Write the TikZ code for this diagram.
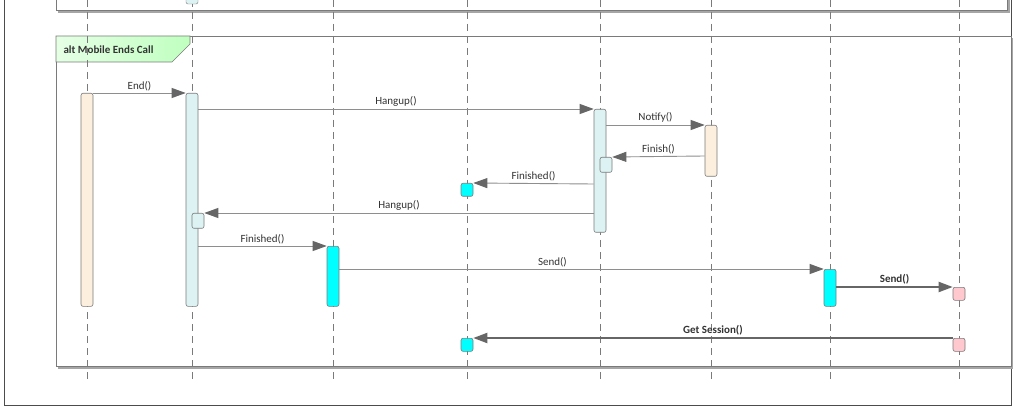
\documentclass[tikz,border=0pt]{standalone}
\usepackage{fontspec}
\setmainfont{Carlito}
\usetikzlibrary{arrows.meta}
\definecolor{beige}{HTML}{FDEFDD}
\definecolor{lcyan}{HTML}{DDF3F3}
\definecolor{cy}{HTML}{00FFFF}
\definecolor{pk}{HTML}{FFC8CF}
\definecolor{ln}{HTML}{7A7A7A}
\definecolor{ah}{HTML}{666666}
\tikzset{x=1pt,y=-1pt,
 life/.style={draw=ln,dash pattern=on 7pt off 5pt,line width=0.8pt},
 act/.style={draw=ln,rounded corners=2pt,line width=0.6pt},
 msg/.style={draw=ln!85,line width=0.9pt,-{Triangle[length=14pt,width=10pt,color=ah]}},
 bmsg/.style={draw=ah,line width=2pt,-{Triangle[length=14pt,width=10pt,color=ah]}},
 lbl/.style={font=\fontsize{11}{12}\selectfont,text=black!80,above,inner sep=2pt},
 blbl/.style={lbl,font=\bfseries\fontsize{11}{12}\selectfont},
}
\begin{document}
\begin{tikzpicture}
\useasboundingbox (0,0) rectangle (1013,409);
\fill[white] (0,0) rectangle (1013,409);
\draw[black!70,line width=0.8pt] (4,-2) -- (4,405) -- (1011,405) -- (1011,-2);
% previous fragment
\draw[black!35,line width=2pt] (58,12) -- (1009,12) -- (1009,-2);
\draw[ln,line width=0.8pt] (56,-2) -- (56,10) -- (1007,10) -- (1007,-2);
% alt frame
\draw[black!35,line width=2pt] (58,368) -- (1013,368) -- (1013,38);
\draw[ln,line width=0.8pt] (56,36) rectangle (1011,366);
\draw[ln,line width=0.6pt,left color=green!10,right color=green!25!white] (56,36) -- (190,36) -- (190,44) -- (172,62) -- (56,62) -- cycle;
\node[font=\bfseries\fontsize{11}{12}\selectfont,text=black!80,anchor=west] (altlbl) at (60,49.5) {alt Mobile Ends Call};
% lifelines
\foreach \n/\x in {A/87,B/192,C/333,D/467,E/600,F/711,G/830,H/959}{
  \coordinate (\n t) at (\x,0); \coordinate (\n b) at (\x,382);
  \draw[life] (\n t) -- (\n b);}
\fill[lcyan,draw=ln,rounded corners=2pt] (186,-4) rectangle (198,4);
% activations
\node[act,fill=beige,minimum width=12pt,minimum height=213pt,inner sep=0,anchor=north] (a1) at (87,93) {};
\node[act,fill=lcyan,minimum width=12pt,minimum height=213pt,inner sep=0,anchor=north] (b1) at (192,93) {};
\node[act,fill=lcyan,minimum width=12pt,minimum height=15pt,inner sep=0,anchor=north] (b2) at (198,213) {};
\node[act,fill=lcyan,minimum width=12pt,minimum height=123pt,inner sep=0,anchor=north] (e1) at (600,109) {};
\node[act,fill=lcyan,minimum width=12pt,minimum height=15pt,inner sep=0,anchor=north] (e2) at (606,157) {};
\node[act,fill=beige,minimum width=12pt,minimum height=51pt,inner sep=0,anchor=north] (f1) at (711,125) {};
\node[act,fill=cy,minimum width=12pt,minimum height=13pt,inner sep=0,anchor=north] (d1) at (467,183) {};
\node[act,fill=cy,minimum width=12pt,minimum height=13pt,inner sep=0,anchor=north] (d2) at (467,338) {};
\node[act,fill=cy,minimum width=12pt,minimum height=60pt,inner sep=0,anchor=north] (c1) at (333,246) {};
\node[act,fill=cy,minimum width=12pt,minimum height=37pt,inner sep=0,anchor=north] (g1) at (830,269) {};
\node[act,fill=pk,minimum width=12pt,minimum height=13pt,inner sep=0,anchor=north] (h1) at (959,287) {};
\node[act,fill=pk,minimum width=12pt,minimum height=13pt,inner sep=0,anchor=north] (h2) at (959,338) {};
% messages
\draw[msg] (a1.north east) -- node[lbl]{End()} (b1.north west);
\draw[msg] (b1.east |- 0,109) -- node[lbl]{Hangup()} (e1.north west);
\draw[msg] (e1.east |- 0,125) -- node[lbl]{Notify()} (f1.north west);
\draw[msg] (f1.west |- 0,156) -- node[lbl]{Finish()} (e2.north east);
\draw[msg] (e1.west |- 0,184) -- node[lbl]{Finished()} (d1.north east);
\draw[msg] (e1.west |- 0,213) -- node[lbl]{Hangup()} (b2.north east);
\draw[msg] (b1.east |- c1.north) -- node[lbl]{Finished()} (c1.north west);
\draw[msg] (c1.east |- g1.north) -- node[lbl,pos=0.44]{Send()} (g1.north west);
\draw[bmsg] (g1.east |- 0,287) -- node[blbl]{Send()} (h1.north west);
\draw[bmsg] (h2.north west) -- node[blbl]{Get Session()} (d2.north east);
\end{tikzpicture}
\end{document}
